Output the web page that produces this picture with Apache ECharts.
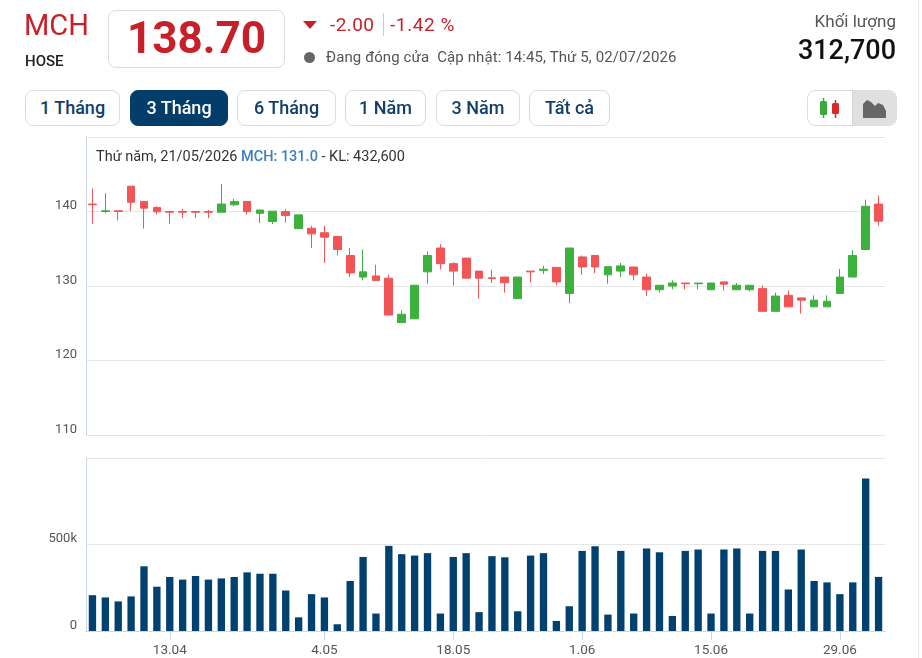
<!DOCTYPE html>
<html>
<head>
<meta charset="utf-8">
<script src="https://cdn.jsdelivr.net/npm/echarts@6/dist/echarts.min.js"></script>
<style>
html,body{margin:0;padding:0;background:#fff;font-family:Roboto,"Noto Sans",Arial,sans-serif;}
#chart{position:absolute;left:0;top:0;width:922px;height:658px;}
.t{position:absolute;white-space:nowrap;line-height:1;}
.btn{position:absolute;top:90px;height:34px;line-height:34px;border:1px solid #dcdcdc;border-radius:8px;text-align:center;font-size:18px;font-weight:500;color:#123f6a;box-sizing:content-box;background:#fff;}
.btn.sel{background:#033e6b;color:#fff;border-color:#033e6b;}
#vline{position:absolute;left:918px;top:0;width:1px;height:658px;background:#e8e8e8;}
</style>
</head>
<body>
<div id="chart"></div>
<div id="vline"></div>

<div class="t" style="left:24px;top:11px;font-size:29px;color:#c8202a;">MCH</div>
<div class="t" style="left:25px;top:54px;font-size:15px;font-weight:500;color:#222;">HOSE</div>
<div style="position:absolute;left:108px;top:10px;width:175px;height:56px;border:1px solid #dcdcdc;border-radius:8px;"></div>
<div class="t" style="left:108px;width:177px;text-align:center;top:16px;font-size:44px;font-weight:700;color:#c8202a;">138.70</div>

<svg style="position:absolute;left:303px;top:21px" width="15" height="9"><polygon points="0,0 14,0 7,8" fill="#c8202a"/></svg>
<div class="t" style="left:330px;top:15px;font-size:19px;letter-spacing:0.4px;color:#c8202a;">-2.00</div>
<div style="position:absolute;left:383px;top:13px;width:1px;height:23px;background:#ccc;"></div>
<div class="t" style="left:390px;top:15px;font-size:19px;letter-spacing:0.6px;color:#c8202a;">-1.42 %</div>
<div style="position:absolute;left:304px;top:52px;width:11px;height:11px;border-radius:50%;background:#666;"></div>
<div class="t" style="left:326px;top:50px;font-size:15px;letter-spacing:0.1px;color:#555;">Đang đóng cửa<span style="display:inline-block;width:8px"></span>Cập nhật: 14:45, Thứ 5, 02/07/2026</div>

<div class="t" style="right:26px;top:13px;font-size:17px;color:#555;">Khối lượng</div>
<div class="t" style="right:26px;top:37px;font-size:27px;font-weight:500;color:#111;">312,700</div>

<div class="btn" style="left:25px;width:93px;">1 Tháng</div>
<div class="btn sel" style="left:130px;width:96px;">3 Tháng</div>
<div class="btn" style="left:237px;width:97px;">6 Tháng</div>
<div class="btn" style="left:345px;width:79px;">1 Năm</div>
<div class="btn" style="left:436px;width:82px;">3 Năm</div>
<div class="btn" style="left:529px;width:79px;">Tất cả</div>

<div style="position:absolute;left:807px;top:90px;width:88px;height:34px;border:1px solid #dcdcdc;border-radius:8px;overflow:hidden;background:#fff;">
  <div style="position:absolute;left:44px;top:0;width:44px;height:34px;background:#e0e0e0;border-left:1px solid #d4d4d4;"></div>
  <svg style="position:absolute;left:10px;top:6px" width="24" height="22">
    <line x1="5.5" y1="1" x2="5.5" y2="21" stroke="#3aa83a" stroke-width="1.5"/>
    <rect x="2" y="4" width="7" height="14" rx="1.5" fill="#3aa83a"/>
    <line x1="17.5" y1="3" x2="17.5" y2="21" stroke="#d42a2a" stroke-width="1.5"/>
    <rect x="14" y="6" width="7" height="11" rx="1.5" fill="#d42a2a"/>
  </svg>
  <svg style="position:absolute;left:55px;top:8px" width="24" height="19">
    <polygon points="0,19 0,5 4,1 8,3 12,7 15,4 20,6 23,12 23,19" fill="#666"/>
  </svg>
</div>

<script>
// ----- data -----
const dates = ['3.04','6.04','7.04','8.04','9.04','10.04','13.04','14.04','15.04','16.04','17.04','20.04','21.04','22.04','23.04','24.04','28.04','29.04',
  '4.05','5.05','6.05','7.05','8.05','11.05','12.05','13.05','14.05','15.05','18.05','19.05','20.05','21.05','22.05','25.05','26.05','27.05','28.05','29.05',
  '1.06','2.06','3.06','4.06','5.06','8.06','9.06','10.06','11.06','12.06','15.06','16.06','17.06','18.06','19.06','22.06','23.06','24.06','25.06','26.06',
  '29.06','30.06','1.07','2.07'];
const opens  = [141.0,140.0,140.1,143.4,141.35,140.55,140.0,140.0,140.0,140.0,139.9,140.9,141.35,139.75,138.65,140.0,137.7,137.75,
  137.15,136.65,134.1,131.2,131.35,131.05,125.1,125.6,131.9,135.1,133.0,133.75,132.0,131.1,131.2,128.3,132.0,132.1,132.5,129.0,
  133.9,134.1,131.5,132.0,132.55,131.2,129.5,130.0,130.4,130.3,129.5,130.55,129.5,129.5,129.65,126.6,128.75,128.4,127.2,127.2,
  129.0,131.2,134.9,141.0];
const closes = [140.9,140.1,140.0,141.25,140.45,139.95,139.9,139.9,139.9,139.9,141.0,141.35,140.0,140.2,140.05,139.45,139.55,137.0,
  136.55,134.9,131.75,131.9,130.75,126.1,126.2,130.1,134.1,133.0,132.0,131.05,131.05,131.0,130.45,131.2,131.9,132.25,130.55,135.1,
  132.55,132.55,132.6,132.7,131.5,129.5,130.1,130.4,130.3,130.4,130.4,130.25,130.1,130.1,126.6,128.65,127.2,128.1,128.1,127.95,
  131.2,134.1,140.7,138.7];
const lows   = [138.35,139.8,138.8,140.05,137.7,139.6,138.35,139.1,139.1,139.1,139.9,140.7,139.6,138.45,138.3,138.5,137.7,135.1,
  133.1,134.1,131.2,130.75,130.75,126.1,125.1,125.6,130.3,132.25,130.1,131.05,128.3,130.4,129.1,128.3,130.45,131.6,130.1,127.7,
  131.5,131.75,130.3,131.2,130.75,128.65,129.1,129.55,129.55,129.55,129.5,129.4,129.5,129.3,126.6,126.6,127.2,126.3,127.2,127.2,
  129.0,131.2,134.9,138.1];
const highs  = [143.1,142.45,140.1,143.4,141.35,140.7,140.0,140.35,140.0,140.2,143.7,141.7,141.35,140.2,140.05,140.35,139.55,138.1,
  138.1,136.65,135.1,134.9,132.85,131.5,126.75,130.1,134.65,135.6,133.2,133.75,132.0,132.2,131.2,131.2,132.0,132.7,132.5,135.1,
  134.1,134.1,132.6,133.1,132.55,131.65,130.1,130.75,130.4,130.4,130.4,130.55,130.4,130.1,130.1,129.1,129.4,128.4,128.75,128.75,
  132.3,134.8,141.6,142.15];
const volumes = [207000,194000,171000,200000,374000,256000,312000,297000,318000,297000,304000,312000,339000,331000,331000,234000,79000,213000,
  194000,39000,289000,428000,101000,492000,444000,436000,450000,101000,428000,450000,109000,432600,426000,114000,436000,450000,58000,143000,
  463000,490000,95000,463000,101000,477000,455000,87000,463000,471000,101000,471000,477000,101000,463000,463000,240000,471000,289000,281000,
  213000,281000,882000,312700];
const labelDates = ['13.04','4.05','18.05','1.06','15.06','29.06'];
const infoLine = {date:'Thứ năm, 21/05/2026', sym:'MCH', close:'131.0', vol:'432,600'};

// ----- chart -----
const candles = dates.map((d,i)=>[opens[i],closes[i],lows[i],highs[i]]);
const showLbl = (i)=>labelDates.indexOf(dates[i])>=0;
const chart = echarts.init(document.getElementById('chart'));
const axisBlue = '#ccd6eb', gridGray = '#e6e6e6', up = '#3db13d', down = '#f25555';
chart.setOption({
  animation:false,
  textStyle:{fontFamily:'Roboto'},
  title:{
    left:96, top:150, padding:0,
    text:'{a|'+infoLine.date+' }{b|'+infoLine.sym+': '+infoLine.close+'}{a| - KL: '+infoLine.vol+'}',
    textStyle:{fontWeight:'normal',fontSize:14.5,rich:{
      a:{fontSize:14.5,color:'#333',fontWeight:'normal',fontFamily:'Roboto'},
      b:{fontSize:14.5,color:'#3b7dc4',fontWeight:500,fontFamily:'Roboto'}
    }}
  },
  grid:[
    {left:86,width:799,top:137,height:298},
    {left:86,width:799,top:458,height:173}
  ],
  xAxis:[
    {type:'category',gridIndex:0,data:dates,boundaryGap:true,
     axisLine:{show:false},axisTick:{show:false},axisLabel:{show:false},splitLine:{show:false}},
    {type:'category',gridIndex:1,data:dates,boundaryGap:true,
     axisLine:{show:true,lineStyle:{color:axisBlue}},
     axisTick:{show:true,alignWithLabel:true,interval:(i)=>showLbl(i),length:9,lineStyle:{color:axisBlue}},
     axisLabel:{interval:(i)=>showLbl(i),color:'#555',fontSize:13.5,margin:13},
     splitLine:{show:false}}
  ],
  yAxis:[
    {type:'value',gridIndex:0,min:110,max:150,interval:10,
     axisLine:{show:true,lineStyle:{color:axisBlue}},axisTick:{show:false},
     axisLabel:{showMaxLabel:false,color:'#555',fontSize:13,margin:9,verticalAlign:'bottom',padding:[0,0,-1,0]},
     splitLine:{show:true,lineStyle:{color:gridGray}}},
    {type:'value',gridIndex:1,min:0,max:1000000,interval:500000,
     axisLine:{show:true,lineStyle:{color:axisBlue}},axisTick:{show:false},
     axisLabel:{showMaxLabel:false,color:'#555',fontSize:13,margin:9,verticalAlign:'bottom',padding:[0,0,-1,0],
       formatter:(v)=>v===0?'0':(v/1000)+'k'},
     splitLine:{show:true,lineStyle:{color:gridGray}}}
  ],
  series:[
    {type:'candlestick',xAxisIndex:0,yAxisIndex:0,data:candles,barWidth:'64%',
     itemStyle:{color:up,color0:down,borderColor:up,borderColor0:down,borderWidth:1}},
    {type:'bar',xAxisIndex:1,yAxisIndex:1,data:volumes,barWidth:'57%',
     itemStyle:{color:'#004170'}}
  ]
});
</script>
</body>
</html>
